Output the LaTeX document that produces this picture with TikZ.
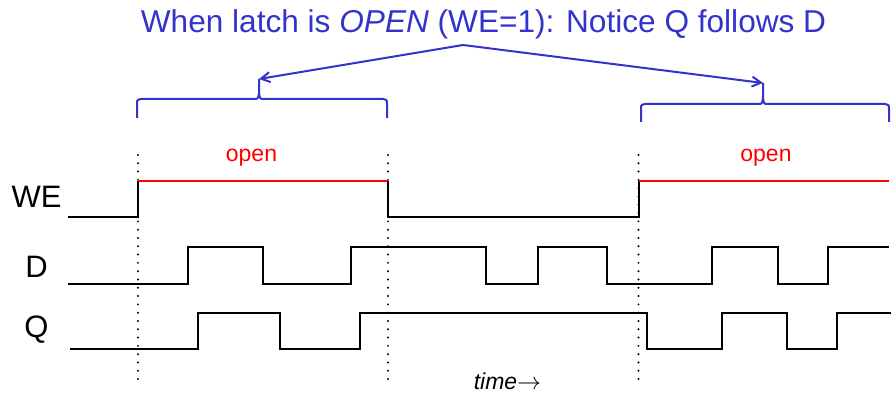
\documentclass[tikz,border=0pt]{standalone}
\usepackage{fontspec}
\setmainfont{Liberation Sans}
\usepackage{xcolor}
\usepackage{tikz}
\usetikzlibrary{positioning,arrows.meta}
\definecolor{noteblue}{RGB}{51,51,204}

\begin{document}
\begin{tikzpicture}[x=0.5pt, y=-0.5pt,
                every node/.append style = {inner sep = 0pt},
                sig/.style = {line width = 1pt},
                openlvl/.style = {line width = 1pt, red},
                guide/.style = {line width = 1.1pt, line cap = round, dash pattern = on 0pt off 4.15pt},
                callout/.style = {line width = 1pt, noteblue},
                pointer/.style = {callout, -{Straight Barb[length=4.5pt, width=5pt]}},
                lbl/.style = {anchor = base, font = \fontsize{15.5}{18}\selectfont},
                small/.style = {anchor = base, font = \fontsize{11.5}{14}\selectfont}]
            \useasboundingbox (0,0) rectangle (891,395);
            % heading, pointing at both open windows
            \node[callout, anchor = base, font = \fontsize{15.8}{19}\selectfont] (title) at (483.5,33)
                {When latch is \textit{OPEN} (WE=1): Notice Q follows D};
            \coordinate (apex) at (463,45);
            \coordinate (ltip) at (259,79);
            \coordinate (rtip) at (763,83);
            \draw[pointer] (apex) -- (ltip);
            \draw[pointer] (apex) -- (rtip);
            \draw[callout] (137,118) -- (137,104) .. controls (137,100) .. (141,99) -- (254,99)
                .. controls (258,99) .. (259,93) -- (ltip);
            \draw[callout] (259,93) .. controls (260,99) .. (264,99) -- (383,99)
                .. controls (387,100) .. (387,104) -- (387,118);
            \draw[callout] (641,122) -- (641,109) .. controls (641,105) .. (645,104) -- (758,104)
                .. controls (762,104) .. (763,98) -- (rtip);
            \draw[callout] (763,98) .. controls (764,104) .. (768,104) -- (885,104)
                .. controls (889,105) .. (889,109) -- (889,122);
            % signal names
            \node[lbl] (we) at (36.5,208) {WE};
            \node[lbl] (d) at (36.5,278) {D};
            \node[lbl] (q) at (36.5,338) {Q};
            \node[small, red] (open1) at (251.5,161.5) {open};
            \node[small, red] (open2) at (766,161.5) {open};
            \node[small] (time) at (507.5,390) {\textit{time}$\rightarrow$};
            % WE edges
            \foreach \x in {138,388,638.5}
                \draw[guide] (\x,155) -- (\x,380);
            % waveforms
            \draw[sig] (68,217) -- (138,217) -- (138,181);
            \draw[openlvl] (138,181) -- (388,181);
            \draw[sig] (388,181) -- (388,217) -- (638.5,217) -- (638.5,181);
            \draw[openlvl] (638.5,181) -- (889,181);
            \draw[sig] (68,284) -- (188,284) -- (188,247) -- (263,247) -- (263,284) -- (351,284) -- (351,247)
                -- (486,247) -- (486,284) -- (538,284) -- (538,247) -- (607,247) -- (607,284) -- (712,284)
                -- (712,247) -- (778,247) -- (778,284) -- (828,284) -- (828,247) -- (889,247);
            \draw[sig] (70,349) -- (198,349) -- (198,313) -- (280,313) -- (280,349) -- (360,349) -- (360,313)
                -- (647,313) -- (647,349) -- (722,349) -- (722,313) -- (787,313) -- (787,349) -- (837,349)
                -- (837,313) -- (891,313);
            \end{tikzpicture}
\end{document}
